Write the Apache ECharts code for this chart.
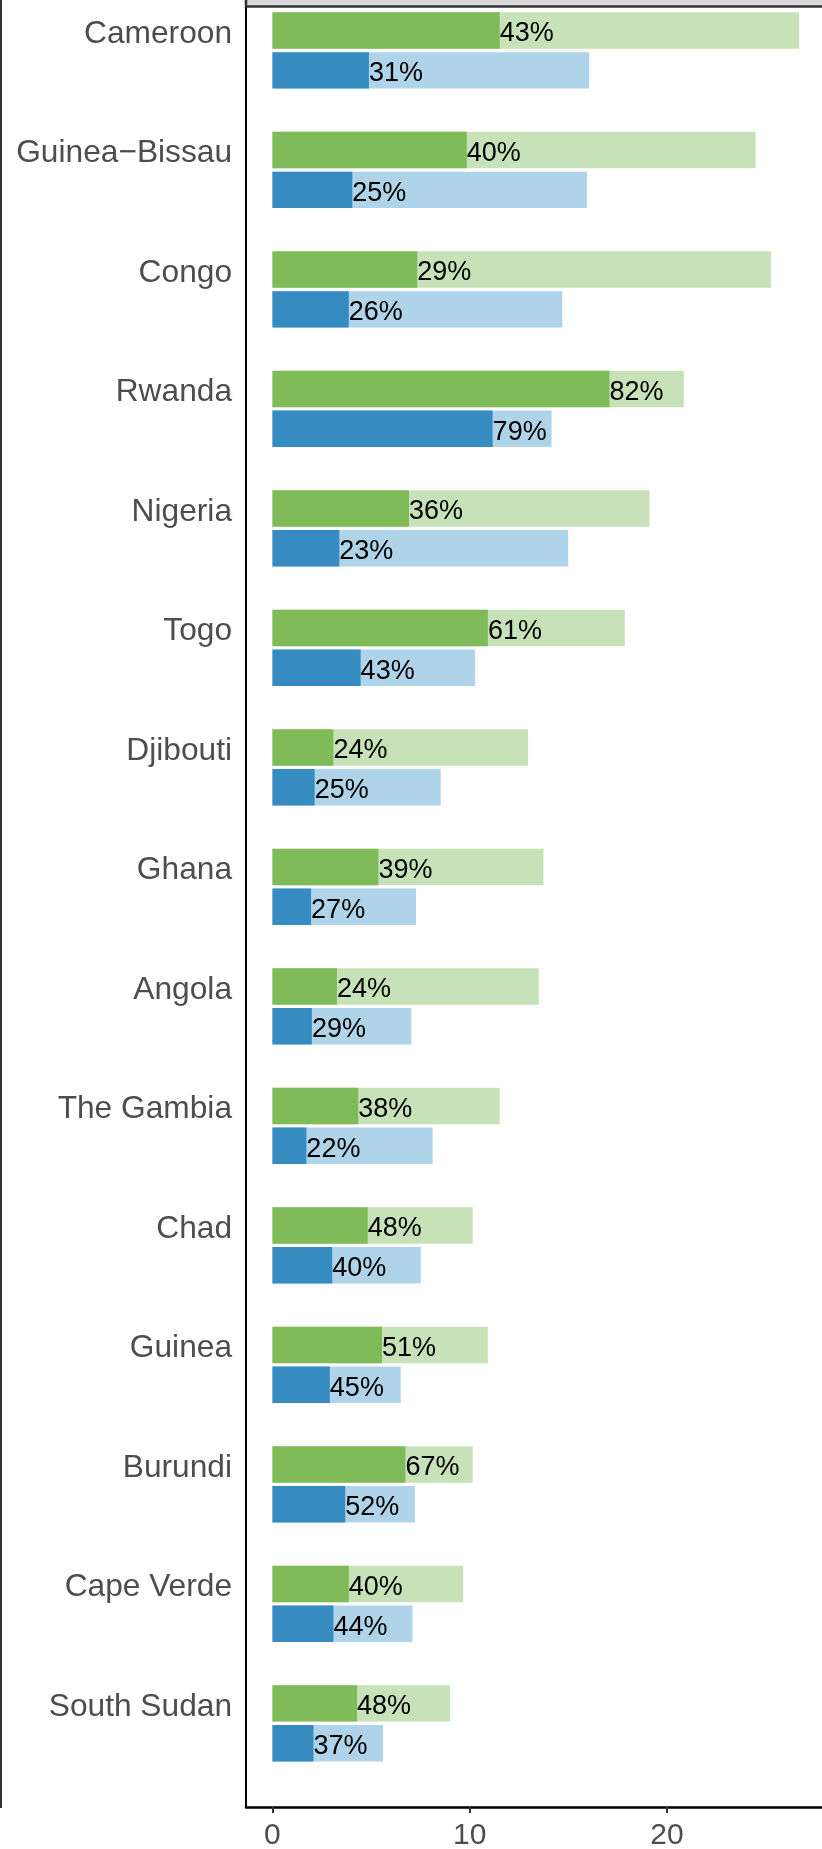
<!DOCTYPE html>
<html>
<head>
<meta charset="utf-8">
<script src="https://cdn.jsdelivr.net/npm/echarts@6/dist/echarts.min.js"></script>
<style>
html,body{margin:0;padding:0;background:#fff;}
#chart{width:822px;height:1849px;}
</style>
</head>
<body>
<div id="chart"></div>
<script>
const countries = ["Cameroon","Guinea\u2212Bissau","Congo","Rwanda","Nigeria","Togo","Djibouti","Ghana","Angola","The Gambia","Chad","Guinea","Burundi","Cape Verde","South Sudan"];
const greenTotal = [26.7, 24.49, 25.27, 20.85, 19.11, 17.86, 12.96, 13.74, 13.5, 11.52, 10.15, 10.92, 10.15, 9.67, 9.01];
const greenPart  = [11.52, 9.85, 7.34, 17.08, 6.92, 10.92, 3.09, 5.37, 3.27, 4.35, 4.83, 5.55, 6.74, 3.87, 4.29];
const greenPct   = [43, 40, 29, 82, 36, 61, 24, 39, 24, 38, 48, 51, 67, 40, 48];
const blueTotal  = [16.06, 15.94, 14.69, 14.15, 14.99, 10.27, 8.53, 7.28, 7.04, 8.12, 7.52, 6.5, 7.22, 7.1, 5.6];
const bluePart   = [4.89, 4.05, 3.87, 11.16, 3.39, 4.47, 2.14, 1.96, 2.0, 1.72, 3.03, 2.91, 3.69, 3.09, 2.08];
const bluePct    = [31, 25, 26, 79, 23, 43, 25, 27, 29, 22, 40, 45, 52, 44, 37];
const xTicks = [0, 10, 20];

const DODGE = 1/3;     // vertical offset of the second bar within a country
const BAR_H = 0.305;   // bar thickness in y units
const FONT = '"Liberation Sans", Arial, Helvetica, sans-serif';

function rows(total, part, pct, offset) {
  return countries.map((c, i) => [total[i], part[i], pct[i], i + offset]);
}

function makeRender(lightColor, darkColor) {
  return function (params, api) {
    const y = api.value(3);
    const s = api.coord([0, y]);
    const eL = api.coord([api.value(0), y]);
    const eD = api.coord([api.value(1), y]);
    const h = Math.abs(api.size([0, BAR_H])[1]);
    return {
      type: 'group',
      children: [
        { type: 'rect', shape: { x: s[0], y: s[1] - h / 2, width: eL[0] - s[0], height: h }, style: { fill: lightColor } },
        { type: 'rect', shape: { x: s[0], y: s[1] - h / 2, width: eD[0] - s[0], height: h }, style: { fill: darkColor } },
        { type: 'text', z2: 10, style: { text: api.value(2) + '%', x: eD[0], y: eD[1] + 3.5, fill: '#000', fontSize: 27, fontFamily: FONT, align: 'left', verticalAlign: 'middle' } }
      ]
    };
  };
}

const chart = echarts.init(document.getElementById('chart'), null, { renderer: 'canvas' });
chart.setOption({
  animation: false,
  backgroundColor: '#fff',
  grid: { left: 246, right: -6, top: 7, bottom: 42, containLabel: false, outerBoundsMode: 'none' },
  xAxis: {
    type: 'value', min: -1.34, max: 28.16,
    splitLine: { show: false },
    axisLine: { show: true, onZero: false, lineStyle: { color: '#000', width: 2.5 } },
    axisTick: { show: true, customValues: xTicks, length: 6, lineStyle: { color: '#333', width: 2 } },
    axisLabel: { customValues: xTicks, color: '#4d4d4d', fontSize: 30, fontFamily: FONT, margin: 14 }
  },
  yAxis: {
    type: 'value', inverse: true, min: -0.197, max: 14.867,
    splitLine: { show: false },
    axisLine: { show: true, onZero: false, lineStyle: { color: '#000', width: 2 } },
    axisTick: { show: false },
    axisLabel: {
      customValues: countries.map((c, i) => i),
      formatter: v => countries[Math.round(v)],
      color: '#4d4d4d', fontSize: 31.7, fontFamily: FONT, margin: 14,
      verticalAlign: 'top', lineHeight: 7
    }
  },
  graphic: [
    { type: 'rect', shape: { x: 246, y: -4, width: 600, height: 10.5 }, style: { fill: '#d9d9d9', stroke: '#333', lineWidth: 2.5 }, z: 100 },
    { type: 'line', shape: { x1: 1, y1: 0, x2: 1, y2: 1808 }, style: { stroke: '#333', lineWidth: 2 }, z: 100 }
  ],
  series: [
    { name: 'green', type: 'custom', renderItem: makeRender('#c7e2b8', '#7fbb59'), encode: { x: [0, 1], y: 3 }, data: rows(greenTotal, greenPart, greenPct, 0), clip: false },
    { name: 'blue', type: 'custom', renderItem: makeRender('#afd3e8', '#368bc1'), encode: { x: [0, 1], y: 3 }, data: rows(blueTotal, bluePart, bluePct, DODGE), clip: false }
  ]
});
</script>
</body>
</html>
